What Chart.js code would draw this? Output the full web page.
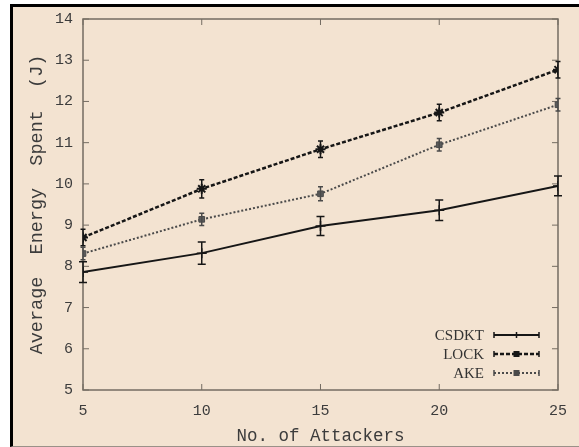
<!DOCTYPE html>
<html>
<head>
<meta charset="utf-8">
<script src="https://cdn.jsdelivr.net/npm/chart.js@4"></script>
<style>
  body { margin: 0; background: #fff; }
  #wrap { position: relative; width: 579px; height: 447px; }
  #bg {
    position: absolute; left: 10px; top: 4px; right: 0; bottom: 0;
    background: #f3e3d1;
    border-left: 3px solid #000; border-top: 3px solid #000;
    border-bottom: 1px solid #9a9188;
  }
  #c { position: absolute; left: 0; top: 0; }
</style>
</head>
<body>
<div id="wrap">
  <div id="bg"></div>
  <canvas id="c" width="579" height="447"></canvas>
</div>
<script>
// valori
const attackers = [5, 10, 15, 20, 25];
const csdkt = [7.86, 8.32, 8.98, 9.36, 9.95];
const csdktErr = [0.25, 0.27, 0.23, 0.25, 0.24];
const lock = [8.70, 9.88, 10.84, 11.73, 12.77];
const lockErr = [0.2, 0.22, 0.2, 0.2, 0.2];
const ake = [8.31, 9.14, 9.76, 10.95, 11.92];
const akeErr = [0.15, 0.15, 0.17, 0.15, 0.15];
const yTicks = [5, 6, 7, 8, 9, 10, 11, 12, 13, 14];

const errori = [csdktErr, lockErr, akeErr];
const frameColor = '#746c62';

function punti(valori) {
    return attackers.map((x, i) => ({ x: x, y: valori[i] }));
}

// barre di errore, cornice, tacche e legenda
const extraPlugin = {
    id: 'extra',
    beforeDatasetsDraw(chart) {
        const ctx = chart.ctx;
        const a = chart.chartArea;
        const xs = chart.scales.x, ys = chart.scales.y;
        ctx.save();
        ctx.strokeStyle = frameColor;
        ctx.lineWidth = 1.5;
        ctx.strokeRect(a.left, a.top, a.right - a.left, a.bottom - a.top);
        ctx.lineWidth = 1;
        attackers.forEach(v => {
            let px = xs.getPixelForValue(v);
            ctx.beginPath();
            ctx.moveTo(px, a.bottom); ctx.lineTo(px, a.bottom - 6);
            ctx.moveTo(px, a.top); ctx.lineTo(px, a.top + 6);
            ctx.stroke();
        });
        yTicks.forEach(v => {
            let py = ys.getPixelForValue(v);
            ctx.beginPath();
            ctx.moveTo(a.left, py); ctx.lineTo(a.left + 6, py);
            ctx.moveTo(a.right, py); ctx.lineTo(a.right - 6, py);
            ctx.stroke();
        });
        ctx.restore();
    },
    afterDatasetsDraw(chart) {
        const ctx = chart.ctx;
        const ys = chart.scales.y;
        const a = chart.chartArea;
        ctx.save();
        chart.data.datasets.forEach((ds, d) => {
            const meta = chart.getDatasetMeta(d);
            ctx.strokeStyle = ds.borderColor;
            ctx.lineWidth = 1.5;
            ctx.setLineDash([]);
            meta.data.forEach((p, i) => {
                let v = ds.data[i].y;
                let e = errori[d][i];
                let y1 = ys.getPixelForValue(v - e);
                let y2 = ys.getPixelForValue(v + e);
                let w = d === 0 ? 4 : 2.5;
                ctx.beginPath();
                ctx.moveTo(p.x, y1); ctx.lineTo(p.x, y2);
                ctx.moveTo(p.x - w, y1); ctx.lineTo(p.x + w, y1);
                ctx.moveTo(p.x - w, y2); ctx.lineTo(p.x + w, y2);
                ctx.stroke();
            });
        });

        // legenda
        ctx.font = '15px "Liberation Serif", serif';
        ctx.textAlign = 'right';
        ctx.textBaseline = 'middle';
        const rows = [a.bottom - 55, a.bottom - 36, a.bottom - 17];
        chart.data.datasets.forEach((ds, d) => {
            let y = rows[d];
            ctx.fillStyle = '#333';
            ctx.fillText(ds.label, a.right - 74, y + 1);
            let x1 = a.right - 64, x2 = a.right - 19;
            ctx.strokeStyle = ds.borderColor;
            ctx.lineWidth = ds.borderWidth;
            ctx.setLineDash(ds.borderDash || []);
            ctx.beginPath();
            ctx.moveTo(x1, y); ctx.lineTo(x2, y);
            ctx.stroke();
            ctx.setLineDash([]);
            ctx.lineWidth = 1.5;
            ctx.beginPath();
            ctx.moveTo(x1, y - 3); ctx.lineTo(x1, y + 3);
            ctx.moveTo(x2, y - 3); ctx.lineTo(x2, y + 3);
            ctx.stroke();
            let mx = (x1 + x2) / 2;
            ctx.fillStyle = ds.borderColor;
            if (d === 0) {
                ctx.beginPath();
                ctx.moveTo(mx, y - 3); ctx.lineTo(mx, y + 3);
                ctx.stroke();
            } else {
                ctx.fillRect(mx - 3, y - 3, 6, 6);
            }
        });
        ctx.restore();
    }
};

new Chart(document.getElementById('c').getContext('2d'), {
    type: 'line',
    data: {
        datasets: [
            {
                label: 'CSDKT', data: punti(csdkt),
                borderColor: '#161616', backgroundColor: '#161616',
                borderWidth: 2, pointStyle: 'cross', pointRadius: 5, pointBorderWidth: 1.5
            },
            {
                label: 'LOCK', data: punti(lock),
                borderColor: '#161616', backgroundColor: '#161616',
                borderWidth: 2.5, borderDash: [4, 2],
                pointStyle: 'star', pointRadius: 5, pointBorderWidth: 2
            },
            {
                label: 'AKE', data: punti(ake),
                borderColor: '#4a4a4a', backgroundColor: '#5a5a5a',
                borderWidth: 2, borderDash: [2, 2],
                pointStyle: 'rect', pointRadius: 4, pointBorderWidth: 1
            }
        ]
    },
    options: {
        responsive: false,
        animation: false,
        layout: { padding: { left: 0, top: 18, right: 17, bottom: 0 } },
        plugins: {
            legend: { display: false },
            tooltip: { enabled: false }
        },
        scales: {
            x: {
                type: 'linear', min: 5, max: 25,
                afterBuildTicks: s => { s.ticks = attackers.map(v => ({ value: v })); },
                afterFit: s => { s.height = 57; },
                grid: { display: false, drawTicks: false },
                border: { display: false },
                ticks: {
                    padding: 12, color: '#3c3c3c',
                    font: { family: '"Liberation Mono", monospace', size: 15 }
                },
                title: {
                    display: true, text: 'No. of Attackers', color: '#3c3c3c',
                    font: { family: '"Liberation Mono", monospace', size: 17.5 },
                    padding: 0
                }
            },
            y: {
                type: 'linear', min: 5, max: 14,
                afterBuildTicks: s => { s.ticks = yTicks.map(v => ({ value: v })); },
                afterFit: s => { s.width = 83; },
                grid: { display: false, drawTicks: false },
                border: { display: false },
                ticks: {
                    padding: 10, color: '#3c3c3c',
                    font: { family: '"Liberation Mono", monospace', size: 15 }
                },
                title: {
                    display: true, text: 'Average  Energy  Spent  (J)', color: '#3c3c3c',
                    font: { family: '"Liberation Mono", monospace', size: 18.5 },
                    padding: { top: 26, bottom: 0 }
                }
            }
        }
    },
    plugins: [extraPlugin]
});
</script>
</body>
</html>
